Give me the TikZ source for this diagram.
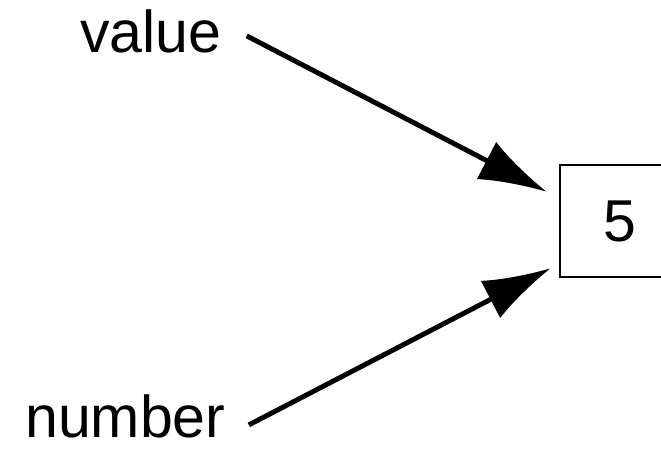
\documentclass[tikz,border=0pt]{standalone}
\usepackage{fontspec}
\setmainfont{Liberation Sans}
\usetikzlibrary{arrows.meta, positioning, calc}

\begin{document}
\begin{tikzpicture}[x=0.025cm, y=-0.025cm,
      lbl/.style={font=\fontsize{42}{50}\selectfont, inner sep=0pt},
      cellbox/.style={draw, line width=1.5pt, minimum width=3cm,
                      minimum height=2.8cm, inner sep=0pt,
                      font=\fontsize{42}{50}\selectfont},
      ptr/.style={line width=3.5pt, -{Latex[length=1.7cm, width=1.05cm]}}
    ]
    \useasboundingbox (0,0) rectangle (661,450);
    \node[lbl, anchor=base west] (val) at (80,52) {value};
    \node[lbl, anchor=base west] (num) at (25,437) {number};
    \node[cellbox] (cell) at (620,221) {5};
    \draw[ptr] ([shift={(25,5)}]val.east) -- ([shift={(-12,28)}]cell.north west);
    \draw[ptr] ([shift={(23,9)}]num.east) -- ([shift={(-8,-10)}]cell.south west);
  \end{tikzpicture}
\end{document}
